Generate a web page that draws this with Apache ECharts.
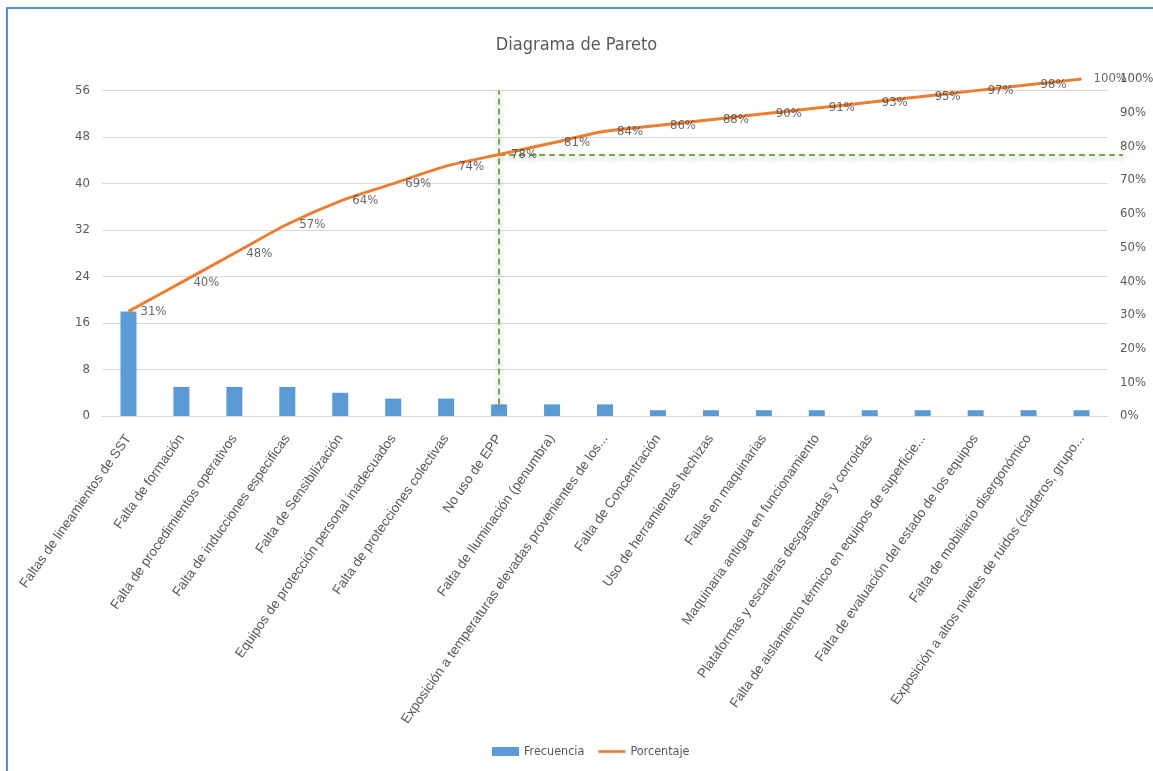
<!DOCTYPE html>
<html>
<head>
<meta charset="utf-8">
<title>Diagrama de Pareto</title>
<script src="https://cdn.jsdelivr.net/npm/echarts@6/dist/echarts.min.js"></script>
<style>
  html, body { margin: 0; padding: 0; background: #fff; }
  #chart { position: absolute; left: 0; top: 0; width: 1153px; height: 771px; }
  #frame {
    position: absolute; left: 6px; top: 7px; right: 0; bottom: 0;
    border-left: 2px solid #5b8dd0; border-top: 2px solid #5b8dd0;
    pointer-events: none;
  }
</style>
</head>
<body>
<div id="chart"></div>
<div id="frame"></div>
<script>
// categorias (texto tal como aparece, con los cortes de Excel)
const categories = [
  'Faltas de lineamientos de SST',
  'Falta de formación',
  'Falta de procedimientos operativos',
  'Falta de inducciones especificas',
  'Falta de Sensibilización',
  'Equipos de protección personal inadecuados',
  'Falta de protecciones colectivas',
  'No uso de EPP',
  'Falta de Iluminación (penumbra)',
  'Exposición a temperaturas elevadas provenientes de los...',
  'Falta de Concentración',
  'Uso de herramientas hechizas',
  'Fallas en maquinarias',
  'Maquinaria antigua en funcionamiento',
  'Plataformas y escaleras desgastadas y corroidas',
  'Falta de aislamiento térmico en equipos de superficie...',
  'Falta de evaluación del estado de los equipos',
  'Falta de mobiliario disergonómico',
  'Exposición a altos niveles de ruidos (calderos, grupo...'
]
const frecuencia = [18, 5, 5, 5, 4, 3, 3, 2, 2, 2, 1, 1, 1, 1, 1, 1, 1, 1, 1]
const porcentaje = [31.03, 39.66, 48.28, 56.90, 63.79, 68.97, 74.14, 77.59, 81.03, 84.48,
  86.21, 87.93, 89.66, 91.38, 93.10, 94.83, 96.55, 98.28, 100]
const leftTicks = { min: 0, max: 58, interval: 8 }
const rightTicks = { min: 0, max: 100, interval: 10 }
// corte 80-20 marcado en verde
const corteCategoria = 'No uso de EPP'
const corteFrecuencia = [2, 56]
const cortePorcentaje = 77.59

const narrow = '"Liberation Sans Narrow", "DejaVu Sans Condensed", sans-serif'
const gray = '#595959'
const cutLine = {
  color: '#70ad47',
  width: 2,
  type: [6, 4],
  shadowColor: 'rgba(0,0,0,0.3)',
  shadowBlur: 5,
  shadowOffsetY: 3
}

const chart = echarts.init(document.getElementById('chart'))
chart.setOption({
  animation: false,
  title: {
    text: 'Diagrama de Pareto',
    left: 'center',
    top: 31,
    textStyle: { fontFamily: narrow, fontSize: 18, fontWeight: 'normal', color: gray }
  },
  legend: {
    left: 487,
    top: 740,
    itemWidth: 27,
    itemHeight: 9,
    itemGap: 14,
    textStyle: { fontFamily: narrow, fontSize: 12.5, color: gray },
    data: [
      { name: 'Frecuencia', icon: 'rect' },
      { name: 'Porcentaje', icon: 'path://M0,0 L30,0 L30,3 L0,3 Z' }
    ]
  },
  grid: { left: 102, right: 45, top: 79, bottom: 355, outerBoundsMode: 'none' },
  xAxis: {
    type: 'category',
    data: categories,
    axisTick: { show: false },
    axisLine: { lineStyle: { color: '#d9d9d9' } },
    axisLabel: {
      interval: 0,
      rotate: 55,
      margin: 20,
      fontFamily: '"Liberation Sans", Arial, sans-serif',
      fontSize: 13.5,
      color: gray
    }
  },
  yAxis: [
    {
      type: 'value',
      min: leftTicks.min,
      max: leftTicks.max,
      interval: leftTicks.interval,
      axisLine: { show: false },
      axisTick: { show: false },
      axisLabel: { showMaxLabel: false, margin: 12, fontFamily: narrow, fontSize: 13, color: gray },
      splitLine: {
        lineStyle: {
          color: ['#d9d9d9', '#d9d9d9', '#d9d9d9', '#d9d9d9', '#d9d9d9',
            '#d9d9d9', '#d9d9d9', '#d9d9d9', 'rgba(0,0,0,0)']
        }
      }
    },
    {
      type: 'value',
      min: rightTicks.min,
      max: rightTicks.max,
      interval: rightTicks.interval,
      axisLine: { show: false },
      axisTick: { show: false },
      splitLine: { show: false },
      axisLabel: {
        margin: 12,
        fontFamily: narrow,
        fontSize: 13,
        color: gray,
        formatter: v => v + '%'
      }
    }
  ],
  series: [
    {
      name: 'Frecuencia',
      type: 'bar',
      barWidth: 16,
      data: frecuencia,
      itemStyle: { color: '#5b9bd5' },
      markLine: {
        silent: true,
        symbol: 'none',
        label: { show: false },
        lineStyle: cutLine,
        data: [[
          { coord: [corteCategoria, corteFrecuencia[0]] },
          { coord: [corteCategoria, corteFrecuencia[1]] }
        ]]
      }
    },
    {
      name: 'Porcentaje',
      type: 'line',
      yAxisIndex: 1,
      data: porcentaje,
      clip: false,
      symbol: 'none',
      smooth: 0.25,
      z: 5,
      itemStyle: { color: '#ed7d31' },
      lineStyle: { color: '#ed7d31', width: 3 },
      markLine: {
        silent: true,
        symbol: 'none',
        label: { show: false },
        lineStyle: cutLine,
        data: [[
          { coord: [corteCategoria, cortePorcentaje] },
          { coord: [categories[categories.length - 1], cortePorcentaje], x: '97.4%' }
        ]]
      }
    },
    {
      // etiquetas de porcentaje acumulado
      name: 'etiquetas',
      type: 'scatter',
      yAxisIndex: 1,
      data: porcentaje,
      symbolSize: 0,
      silent: true,
      z: 6,
      label: {
        show: true,
        position: 'right',
        distance: 12,
        fontFamily: narrow,
        fontSize: 13,
        color: '#404040',
        formatter: p => Math.round(p.value) + '%'
      }
    }
  ]
})
</script>
</body>
</html>
